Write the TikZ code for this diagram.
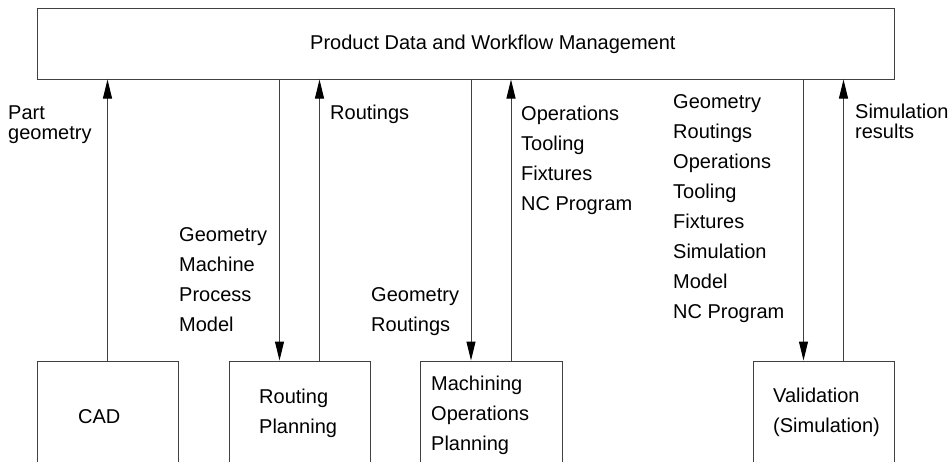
\documentclass[tikz,border=0pt]{standalone}
\usepackage{fontspec}
\setmainfont{Liberation Sans}
\usetikzlibrary{calc,arrows.meta}

\begin{document}
\begin{tikzpicture}[x=1pt,y=-1pt,
    box/.style={draw=black!75,line width=1pt,inner sep=0pt},
    lbl/.style={anchor=base west,align=left,inner sep=0pt,font=\fontsize{20}{30}\selectfont},
    tight/.style={font=\fontsize{20}{20}\selectfont},
    flow/.style={draw=black!75,line width=1pt,-{Triangle[length=19pt,width=9pt,color=black]}}]
    \useasboundingbox (0,0) rectangle (951,461);
    \clip (0,0) rectangle (951,461);

    \node[box,minimum width=857pt,minimum height=71pt] (pdm) at (465.5,43.5) {};
    \node[box,minimum width=141pt,minimum height=120pt] (cad) at (107.5,421) {};
    \node[box,minimum width=141pt,minimum height=120pt] (rp) at (299.5,421) {};
    \node[box,minimum width=142pt,minimum height=120pt] (mop) at (491,421) {};
    \node[box,minimum width=141pt,minimum height=120pt] (val) at (823.5,421) {};

    \node[lbl] (pdmtxt) at (310,49) {Product Data and Workflow Management};
    \node[lbl] (cadtxt) at (78,423) {CAD};
    \node[lbl] (rptxt) at (259,433) {Routing\\Planning};
    \node[lbl] (moptxt) at (431,450) {Machining\\Operations\\Planning};
    \node[lbl] (valtxt) at (773,432) {Validation\\(Simulation)};

    \coordinate (rpin) at ($(rp.north)+(-20,0)$);
    \coordinate (rpout) at ($(rp.north)+(20,0)$);
    \coordinate (mopin) at ($(mop.north)+(-20,0)$);
    \coordinate (mopout) at ($(mop.north)+(20,0)$);
    \coordinate (valin) at ($(val.north)+(-20,0)$);
    \coordinate (valout) at ($(val.north)+(20,0)$);

    \draw[flow] (cad.north) -- (cad.north |- pdm.south);
    \draw[flow] (rpin |- pdm.south) -- (rpin);
    \draw[flow] (rpout) -- (rpout |- pdm.south);
    \draw[flow] (mopin |- pdm.south) -- (mopin);
    \draw[flow] (mopout) -- (mopout |- pdm.south);
    \draw[flow] (valin |- pdm.south) -- (valin);
    \draw[flow] (valout) -- (valout |- pdm.south);

    \node[lbl,tight] (cadout) at (8,139) {Part\\geometry};
    \node[lbl] (rpoutl) at (330,119) {Routings};
    \node[lbl] (rpinl) at (179,331) {Geometry\\Machine\\Process\\Model};
    \node[lbl] (mopinl) at (371,331) {Geometry\\Routings};
    \node[lbl] (mopoutl) at (521,210) {Operations\\Tooling\\Fixtures\\NC Program};
    \node[lbl] (valinl) at (673,318) {Geometry\\Routings\\Operations\\Tooling\\Fixtures\\Simulation\\Model\\NC Program};
    \node[lbl,tight] (valoutl) at (855,138) {Simulation\\results};
\end{tikzpicture}
\end{document}
